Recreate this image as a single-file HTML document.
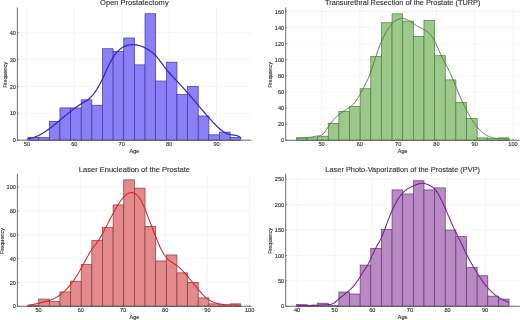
<!DOCTYPE html>
<html><head><meta charset="utf-8"><title>Age distribution by procedure</title>
<style>
html,body{margin:0;padding:0;background:#fff;}
body{width:520px;height:320px;overflow:hidden;font-family:"Liberation Sans",sans-serif;}
svg{display:block;filter:blur(0.35px);}
text{font-family:"Liberation Sans",sans-serif;stroke:#262626;stroke-width:0.1;}
.grid{stroke:#ededed;stroke-width:0.6;}
.spine{stroke:#505050;stroke-width:0.85;}
.ttl{stroke-width:0.12;fill:#303030;stroke:#303030;}
.tick{stroke:#5a5a5a;stroke-width:0.6;}
</style></head>
<body>
<svg width="520" height="320" viewBox="0 0 520 320">
<rect x="0" y="0" width="520" height="320" fill="#ffffff"/>
<line x1="26.90" y1="7.45" x2="26.90" y2="140.20" class="grid"/>
<line x1="74.30" y1="7.45" x2="74.30" y2="140.20" class="grid"/>
<line x1="121.70" y1="7.45" x2="121.70" y2="140.20" class="grid"/>
<line x1="169.10" y1="7.45" x2="169.10" y2="140.20" class="grid"/>
<line x1="216.50" y1="7.45" x2="216.50" y2="140.20" class="grid"/>
<line x1="17.40" y1="140.20" x2="251.40" y2="140.20" class="grid"/>
<line x1="17.40" y1="113.30" x2="251.40" y2="113.30" class="grid"/>
<line x1="17.40" y1="86.40" x2="251.40" y2="86.40" class="grid"/>
<line x1="17.40" y1="59.50" x2="251.40" y2="59.50" class="grid"/>
<line x1="17.40" y1="32.60" x2="251.40" y2="32.60" class="grid"/>
<rect x="28.04" y="137.51" width="10.64" height="2.69" fill="#8c80f8" stroke="#3f3698" stroke-width="0.7"/>
<rect x="38.67" y="137.51" width="10.64" height="2.69" fill="#8c80f8" stroke="#3f3698" stroke-width="0.7"/>
<rect x="49.31" y="121.37" width="10.64" height="18.83" fill="#8c80f8" stroke="#3f3698" stroke-width="0.7"/>
<rect x="59.95" y="107.92" width="10.64" height="32.28" fill="#8c80f8" stroke="#3f3698" stroke-width="0.7"/>
<rect x="70.58" y="107.92" width="10.64" height="32.28" fill="#8c80f8" stroke="#3f3698" stroke-width="0.7"/>
<rect x="81.22" y="99.85" width="10.64" height="40.35" fill="#8c80f8" stroke="#3f3698" stroke-width="0.7"/>
<rect x="91.85" y="105.23" width="10.64" height="34.97" fill="#8c80f8" stroke="#3f3698" stroke-width="0.7"/>
<rect x="102.49" y="48.74" width="10.64" height="91.46" fill="#8c80f8" stroke="#3f3698" stroke-width="0.7"/>
<rect x="113.13" y="51.43" width="10.64" height="88.77" fill="#8c80f8" stroke="#3f3698" stroke-width="0.7"/>
<rect x="123.76" y="37.98" width="10.64" height="102.22" fill="#8c80f8" stroke="#3f3698" stroke-width="0.7"/>
<rect x="134.40" y="64.88" width="10.64" height="75.32" fill="#8c80f8" stroke="#3f3698" stroke-width="0.7"/>
<rect x="145.04" y="13.77" width="10.64" height="126.43" fill="#8c80f8" stroke="#3f3698" stroke-width="0.7"/>
<rect x="155.67" y="81.02" width="10.64" height="59.18" fill="#8c80f8" stroke="#3f3698" stroke-width="0.7"/>
<rect x="166.31" y="62.19" width="10.64" height="78.01" fill="#8c80f8" stroke="#3f3698" stroke-width="0.7"/>
<rect x="176.95" y="94.47" width="10.64" height="45.73" fill="#8c80f8" stroke="#3f3698" stroke-width="0.7"/>
<rect x="187.58" y="86.40" width="10.64" height="53.80" fill="#8c80f8" stroke="#3f3698" stroke-width="0.7"/>
<rect x="198.22" y="115.99" width="10.64" height="24.21" fill="#8c80f8" stroke="#3f3698" stroke-width="0.7"/>
<rect x="208.85" y="134.82" width="10.64" height="5.38" fill="#8c80f8" stroke="#3f3698" stroke-width="0.7"/>
<rect x="219.49" y="132.13" width="10.64" height="8.07" fill="#8c80f8" stroke="#3f3698" stroke-width="0.7"/>
<rect x="230.13" y="137.51" width="10.64" height="2.69" fill="#8c80f8" stroke="#3f3698" stroke-width="0.7"/>
<path d="M27.50,138.86 L28.39,138.75 L29.28,138.61 L30.18,138.44 L31.07,138.24 L31.96,138.00 L32.85,137.74 L33.75,137.45 L34.64,137.14 L35.53,136.79 L36.42,136.42 L37.31,136.03 L38.21,135.61 L39.10,135.17 L39.99,134.70 L40.88,134.22 L41.78,133.71 L42.67,133.19 L43.56,132.64 L44.45,132.08 L45.35,131.50 L46.24,130.90 L47.13,130.29 L48.02,129.66 L48.91,129.02 L49.81,128.37 L50.70,127.70 L51.59,127.03 L52.48,126.34 L53.38,125.64 L54.27,124.93 L55.16,124.22 L56.05,123.50 L56.94,122.77 L57.84,122.04 L58.73,121.30 L59.62,120.56 L60.51,119.81 L61.41,119.07 L62.30,118.32 L63.19,117.57 L64.08,116.83 L64.97,116.08 L65.87,115.34 L66.76,114.59 L67.65,113.86 L68.54,113.13 L69.44,112.40 L70.33,111.68 L71.22,110.96 L72.11,110.26 L73.01,109.56 L73.90,108.88 L74.79,108.21 L75.68,107.55 L76.57,106.90 L77.47,106.27 L78.36,105.65 L79.25,105.05 L80.14,104.47 L81.04,103.91 L81.93,103.37 L82.82,102.84 L83.71,102.31 L84.60,101.78 L85.50,101.24 L86.39,100.67 L87.28,100.06 L88.17,99.41 L89.07,98.71 L89.96,97.94 L90.85,97.10 L91.74,96.17 L92.63,95.16 L93.53,94.06 L94.42,92.88 L95.31,91.61 L96.20,90.27 L97.10,88.85 L97.99,87.36 L98.88,85.80 L99.77,84.17 L100.67,82.48 L101.56,80.73 L102.45,78.92 L103.34,77.05 L104.23,75.15 L105.13,73.22 L106.02,71.28 L106.91,69.35 L107.80,67.44 L108.70,65.56 L109.59,63.73 L110.48,61.97 L111.37,60.29 L112.26,58.70 L113.16,57.22 L114.05,55.86 L114.94,54.61 L115.83,53.47 L116.73,52.42 L117.62,51.46 L118.51,50.59 L119.40,49.79 L120.29,49.06 L121.19,48.40 L122.08,47.81 L122.97,47.27 L123.86,46.79 L124.76,46.37 L125.65,46.00 L126.54,45.68 L127.43,45.40 L128.33,45.18 L129.22,44.99 L130.11,44.85 L131.00,44.76 L131.89,44.70 L132.79,44.68 L133.68,44.70 L134.57,44.75 L135.46,44.83 L136.36,44.95 L137.25,45.11 L138.14,45.29 L139.03,45.51 L139.92,45.76 L140.82,46.04 L141.71,46.36 L142.60,46.71 L143.49,47.08 L144.39,47.50 L145.28,47.94 L146.17,48.41 L147.06,48.91 L147.96,49.45 L148.85,50.01 L149.74,50.61 L150.63,51.23 L151.52,51.89 L152.42,52.59 L153.31,53.34 L154.20,54.15 L155.09,55.02 L155.99,55.96 L156.88,56.97 L157.77,58.03 L158.66,59.15 L159.55,60.31 L160.45,61.49 L161.34,62.70 L162.23,63.92 L163.12,65.14 L164.02,66.35 L164.91,67.54 L165.80,68.71 L166.69,69.84 L167.58,70.93 L168.48,71.98 L169.37,73.01 L170.26,74.01 L171.15,74.98 L172.05,75.94 L172.94,76.89 L173.83,77.82 L174.72,78.75 L175.62,79.68 L176.51,80.61 L177.40,81.55 L178.29,82.50 L179.18,83.46 L180.08,84.42 L180.97,85.40 L181.86,86.38 L182.75,87.37 L183.65,88.37 L184.54,89.37 L185.43,90.38 L186.32,91.40 L187.21,92.42 L188.11,93.44 L189.00,94.47 L189.89,95.51 L190.78,96.55 L191.68,97.59 L192.57,98.63 L193.46,99.68 L194.35,100.72 L195.24,101.77 L196.14,102.82 L197.03,103.88 L197.92,104.93 L198.81,105.98 L199.71,107.03 L200.60,108.08 L201.49,109.13 L202.38,110.17 L203.28,111.22 L204.17,112.26 L205.06,113.29 L205.95,114.33 L206.84,115.36 L207.74,116.38 L208.63,117.40 L209.52,118.42 L210.41,119.42 L211.31,120.42 L212.20,121.40 L213.09,122.37 L213.98,123.32 L214.87,124.25 L215.77,125.16 L216.66,126.04 L217.55,126.90 L218.44,127.72 L219.34,128.51 L220.23,129.27 L221.12,129.99 L222.01,130.67 L222.90,131.31 L223.80,131.91 L224.69,132.46 L225.58,132.95 L226.47,133.40 L227.37,133.79 L228.26,134.13 L229.15,134.40 L230.04,134.61 L230.94,134.77 L231.83,134.88 L232.72,134.97 L233.61,135.05 L234.50,135.15 L235.40,135.29 L236.29,135.48 L237.18,135.75 L238.07,136.11 L238.97,136.59 L239.86,137.20 L240.75,137.97" fill="none" stroke="#2b22c8" stroke-width="1.2" stroke-linejoin="round"/>
<line x1="17.40" y1="7.45" x2="17.40" y2="140.50" class="spine"/>
<line x1="17.10" y1="140.20" x2="251.40" y2="140.20" class="spine"/>
<text x="26.90" y="146.35" font-size="5.7" text-anchor="middle" fill="#262626" textLength="6.24" lengthAdjust="spacingAndGlyphs">50</text>
<line x1="26.90" y1="140.20" x2="26.90" y2="138.70" class="tick"/>
<text x="74.30" y="146.35" font-size="5.7" text-anchor="middle" fill="#262626" textLength="6.24" lengthAdjust="spacingAndGlyphs">60</text>
<line x1="74.30" y1="140.20" x2="74.30" y2="138.70" class="tick"/>
<text x="121.70" y="146.35" font-size="5.7" text-anchor="middle" fill="#262626" textLength="6.24" lengthAdjust="spacingAndGlyphs">70</text>
<line x1="121.70" y1="140.20" x2="121.70" y2="138.70" class="tick"/>
<text x="169.10" y="146.35" font-size="5.7" text-anchor="middle" fill="#262626" textLength="6.24" lengthAdjust="spacingAndGlyphs">80</text>
<line x1="169.10" y1="140.20" x2="169.10" y2="138.70" class="tick"/>
<text x="216.50" y="146.35" font-size="5.7" text-anchor="middle" fill="#262626" textLength="6.24" lengthAdjust="spacingAndGlyphs">90</text>
<line x1="216.50" y1="140.20" x2="216.50" y2="138.70" class="tick"/>
<text x="15.90" y="142.30" font-size="5.7" text-anchor="end" fill="#262626" textLength="3.12" lengthAdjust="spacingAndGlyphs">0</text>
<line x1="17.40" y1="140.20" x2="18.90" y2="140.20" class="tick"/>
<text x="15.90" y="115.40" font-size="5.7" text-anchor="end" fill="#262626" textLength="6.24" lengthAdjust="spacingAndGlyphs">10</text>
<line x1="17.40" y1="113.30" x2="18.90" y2="113.30" class="tick"/>
<text x="15.90" y="88.50" font-size="5.7" text-anchor="end" fill="#262626" textLength="6.24" lengthAdjust="spacingAndGlyphs">20</text>
<line x1="17.40" y1="86.40" x2="18.90" y2="86.40" class="tick"/>
<text x="15.90" y="61.60" font-size="5.7" text-anchor="end" fill="#262626" textLength="6.24" lengthAdjust="spacingAndGlyphs">30</text>
<line x1="17.40" y1="59.50" x2="18.90" y2="59.50" class="tick"/>
<text x="15.90" y="34.70" font-size="5.7" text-anchor="end" fill="#262626" textLength="6.24" lengthAdjust="spacingAndGlyphs">40</text>
<line x1="17.40" y1="32.60" x2="18.90" y2="32.60" class="tick"/>
<text x="134.40" y="152.70" font-size="5.5" text-anchor="middle" fill="#262626" textLength="9.67" lengthAdjust="spacingAndGlyphs">Age</text>
<text x="7.10" y="74.82" font-size="5.5" text-anchor="middle" fill="#262626" textLength="25.83" lengthAdjust="spacingAndGlyphs" transform="rotate(-90 7.10 74.82)">Frequency</text>
<text x="134.40" y="5.45" font-size="7.5" text-anchor="middle" fill="#262626" textLength="68.53" lengthAdjust="spacingAndGlyphs" class="ttl">Open Prostatectomy</text>
<line x1="321.60" y1="7.45" x2="321.60" y2="140.25" class="grid"/>
<line x1="359.88" y1="7.45" x2="359.88" y2="140.25" class="grid"/>
<line x1="398.16" y1="7.45" x2="398.16" y2="140.25" class="grid"/>
<line x1="436.44" y1="7.45" x2="436.44" y2="140.25" class="grid"/>
<line x1="474.72" y1="7.45" x2="474.72" y2="140.25" class="grid"/>
<line x1="513.00" y1="7.45" x2="513.00" y2="140.25" class="grid"/>
<line x1="285.70" y1="140.25" x2="519.70" y2="140.25" class="grid"/>
<line x1="285.70" y1="124.15" x2="519.70" y2="124.15" class="grid"/>
<line x1="285.70" y1="108.05" x2="519.70" y2="108.05" class="grid"/>
<line x1="285.70" y1="91.95" x2="519.70" y2="91.95" class="grid"/>
<line x1="285.70" y1="75.85" x2="519.70" y2="75.85" class="grid"/>
<line x1="285.70" y1="59.75" x2="519.70" y2="59.75" class="grid"/>
<line x1="285.70" y1="43.65" x2="519.70" y2="43.65" class="grid"/>
<line x1="285.70" y1="27.55" x2="519.70" y2="27.55" class="grid"/>
<line x1="285.70" y1="11.45" x2="519.70" y2="11.45" class="grid"/>
<rect x="296.34" y="137.84" width="10.64" height="2.42" fill="#9dc88c" stroke="#4b7a3e" stroke-width="0.7"/>
<rect x="306.97" y="137.84" width="10.64" height="2.42" fill="#9dc88c" stroke="#4b7a3e" stroke-width="0.7"/>
<rect x="317.61" y="136.22" width="10.64" height="4.03" fill="#9dc88c" stroke="#4b7a3e" stroke-width="0.7"/>
<rect x="328.25" y="123.34" width="10.64" height="16.91" fill="#9dc88c" stroke="#4b7a3e" stroke-width="0.7"/>
<rect x="338.88" y="111.27" width="10.64" height="28.98" fill="#9dc88c" stroke="#4b7a3e" stroke-width="0.7"/>
<rect x="349.52" y="106.44" width="10.64" height="33.81" fill="#9dc88c" stroke="#4b7a3e" stroke-width="0.7"/>
<rect x="360.15" y="88.73" width="10.64" height="51.52" fill="#9dc88c" stroke="#4b7a3e" stroke-width="0.7"/>
<rect x="370.79" y="56.53" width="10.64" height="83.72" fill="#9dc88c" stroke="#4b7a3e" stroke-width="0.7"/>
<rect x="381.43" y="22.72" width="10.64" height="117.53" fill="#9dc88c" stroke="#4b7a3e" stroke-width="0.7"/>
<rect x="392.06" y="13.86" width="10.64" height="126.39" fill="#9dc88c" stroke="#4b7a3e" stroke-width="0.7"/>
<rect x="402.70" y="21.11" width="10.64" height="119.14" fill="#9dc88c" stroke="#4b7a3e" stroke-width="0.7"/>
<rect x="413.34" y="36.40" width="10.64" height="103.85" fill="#9dc88c" stroke="#4b7a3e" stroke-width="0.7"/>
<rect x="423.97" y="20.30" width="10.64" height="119.95" fill="#9dc88c" stroke="#4b7a3e" stroke-width="0.7"/>
<rect x="434.61" y="55.72" width="10.64" height="84.53" fill="#9dc88c" stroke="#4b7a3e" stroke-width="0.7"/>
<rect x="445.25" y="79.88" width="10.64" height="60.38" fill="#9dc88c" stroke="#4b7a3e" stroke-width="0.7"/>
<rect x="455.88" y="102.41" width="10.64" height="37.84" fill="#9dc88c" stroke="#4b7a3e" stroke-width="0.7"/>
<rect x="466.52" y="118.52" width="10.64" height="21.74" fill="#9dc88c" stroke="#4b7a3e" stroke-width="0.7"/>
<rect x="477.15" y="137.84" width="10.64" height="2.42" fill="#9dc88c" stroke="#4b7a3e" stroke-width="0.7"/>
<rect x="487.79" y="138.64" width="10.64" height="1.61" fill="#9dc88c" stroke="#4b7a3e" stroke-width="0.7"/>
<rect x="498.43" y="137.84" width="10.64" height="2.42" fill="#9dc88c" stroke="#4b7a3e" stroke-width="0.7"/>
<path d="M296.25,138.10 L297.14,138.09 L298.03,138.08 L298.92,138.07 L299.81,138.05 L300.71,138.02 L301.60,137.99 L302.49,137.96 L303.38,137.91 L304.27,137.86 L305.16,137.80 L306.05,137.73 L306.94,137.65 L307.84,137.56 L308.73,137.45 L309.62,137.33 L310.51,137.20 L311.40,137.06 L312.29,136.90 L313.18,136.72 L314.07,136.55 L314.97,136.37 L315.86,136.21 L316.75,136.07 L317.64,135.96 L318.53,135.85 L319.42,135.71 L320.31,135.49 L321.20,135.16 L322.10,134.67 L322.99,133.98 L323.88,133.07 L324.77,131.98 L325.66,130.74 L326.55,129.42 L327.44,128.05 L328.33,126.69 L329.22,125.37 L330.12,124.12 L331.01,122.93 L331.90,121.79 L332.79,120.71 L333.68,119.69 L334.57,118.71 L335.46,117.78 L336.35,116.90 L337.25,116.06 L338.14,115.26 L339.03,114.50 L339.92,113.78 L340.81,113.09 L341.70,112.43 L342.59,111.80 L343.48,111.21 L344.38,110.63 L345.27,110.08 L346.16,109.53 L347.05,108.99 L347.94,108.43 L348.83,107.84 L349.72,107.22 L350.61,106.56 L351.51,105.83 L352.40,105.04 L353.29,104.16 L354.18,103.20 L355.07,102.13 L355.96,100.95 L356.85,99.66 L357.74,98.28 L358.63,96.82 L359.53,95.29 L360.42,93.69 L361.31,92.05 L362.20,90.36 L363.09,88.64 L363.98,86.90 L364.87,85.16 L365.76,83.41 L366.66,81.64 L367.55,79.82 L368.44,77.90 L369.33,75.84 L370.22,73.60 L371.11,71.17 L372.00,68.55 L372.89,65.80 L373.79,62.98 L374.68,60.15 L375.57,57.35 L376.46,54.65 L377.35,52.06 L378.24,49.59 L379.13,47.22 L380.02,44.96 L380.92,42.81 L381.81,40.75 L382.70,38.78 L383.59,36.92 L384.48,35.14 L385.37,33.46 L386.26,31.87 L387.15,30.38 L388.04,28.97 L388.94,27.66 L389.83,26.44 L390.72,25.31 L391.61,24.26 L392.50,23.31 L393.39,22.45 L394.28,21.67 L395.17,20.98 L396.07,20.38 L396.96,19.86 L397.85,19.43 L398.74,19.08 L399.63,18.82 L400.52,18.64 L401.41,18.55 L402.30,18.53 L403.20,18.60 L404.09,18.75 L404.98,18.98 L405.87,19.27 L406.76,19.62 L407.65,20.02 L408.54,20.47 L409.43,20.96 L410.33,21.49 L411.22,22.05 L412.11,22.62 L413.00,23.21 L413.89,23.81 L414.78,24.41 L415.67,25.00 L416.56,25.58 L417.46,26.14 L418.35,26.68 L419.24,27.19 L420.13,27.66 L421.02,28.12 L421.91,28.56 L422.80,29.01 L423.69,29.47 L424.58,29.96 L425.48,30.49 L426.37,31.07 L427.26,31.72 L428.15,32.44 L429.04,33.25 L429.93,34.16 L430.82,35.19 L431.71,36.34 L432.61,37.62 L433.50,39.06 L434.39,40.65 L435.28,42.40 L436.17,44.26 L437.06,46.21 L437.95,48.20 L438.84,50.20 L439.74,52.17 L440.63,54.11 L441.52,56.01 L442.41,57.85 L443.30,59.65 L444.19,61.39 L445.08,63.08 L445.97,64.74 L446.87,66.40 L447.76,68.09 L448.65,69.85 L449.54,71.70 L450.43,73.63 L451.32,75.65 L452.21,77.73 L453.10,79.86 L453.99,82.03 L454.89,84.22 L455.78,86.41 L456.67,88.60 L457.56,90.77 L458.45,92.90 L459.34,94.99 L460.23,97.04 L461.12,99.04 L462.02,101.00 L462.91,102.91 L463.80,104.78 L464.69,106.60 L465.58,108.38 L466.47,110.10 L467.36,111.78 L468.25,113.41 L469.15,115.00 L470.04,116.53 L470.93,118.01 L471.82,119.44 L472.71,120.82 L473.60,122.15 L474.49,123.43 L475.38,124.65 L476.28,125.82 L477.17,126.93 L478.06,127.99 L478.95,129.00 L479.84,129.95 L480.73,130.84 L481.62,131.68 L482.51,132.46 L483.40,133.18 L484.30,133.85 L485.19,134.45 L486.08,135.01 L486.97,135.52 L487.86,135.98 L488.75,136.39 L489.64,136.77 L490.53,137.10 L491.43,137.39 L492.32,137.65 L493.21,137.88 L494.10,138.07 L494.99,138.24 L495.88,138.38 L496.77,138.50 L497.66,138.60 L498.56,138.67 L499.45,138.74 L500.34,138.79 L501.23,138.83 L502.12,138.86 L503.01,138.88 L503.90,138.90 L504.79,138.92 L505.69,138.94 L506.58,138.96 L507.47,138.99 L508.36,139.03 L509.25,139.08" fill="none" stroke="#478036" stroke-width="0.95" stroke-linejoin="round"/>
<line x1="285.70" y1="7.45" x2="285.70" y2="140.55" class="spine"/>
<line x1="285.40" y1="140.25" x2="519.70" y2="140.25" class="spine"/>
<text x="321.60" y="146.40" font-size="5.7" text-anchor="middle" fill="#262626" textLength="6.24" lengthAdjust="spacingAndGlyphs">50</text>
<line x1="321.60" y1="140.25" x2="321.60" y2="138.75" class="tick"/>
<text x="359.88" y="146.40" font-size="5.7" text-anchor="middle" fill="#262626" textLength="6.24" lengthAdjust="spacingAndGlyphs">60</text>
<line x1="359.88" y1="140.25" x2="359.88" y2="138.75" class="tick"/>
<text x="398.16" y="146.40" font-size="5.7" text-anchor="middle" fill="#262626" textLength="6.24" lengthAdjust="spacingAndGlyphs">70</text>
<line x1="398.16" y1="140.25" x2="398.16" y2="138.75" class="tick"/>
<text x="436.44" y="146.40" font-size="5.7" text-anchor="middle" fill="#262626" textLength="6.24" lengthAdjust="spacingAndGlyphs">80</text>
<line x1="436.44" y1="140.25" x2="436.44" y2="138.75" class="tick"/>
<text x="474.72" y="146.40" font-size="5.7" text-anchor="middle" fill="#262626" textLength="6.24" lengthAdjust="spacingAndGlyphs">90</text>
<line x1="474.72" y1="140.25" x2="474.72" y2="138.75" class="tick"/>
<text x="513.00" y="146.40" font-size="5.7" text-anchor="middle" fill="#262626" textLength="9.35" lengthAdjust="spacingAndGlyphs">100</text>
<line x1="513.00" y1="140.25" x2="513.00" y2="138.75" class="tick"/>
<text x="284.20" y="142.35" font-size="5.7" text-anchor="end" fill="#262626" textLength="3.12" lengthAdjust="spacingAndGlyphs">0</text>
<line x1="285.70" y1="140.25" x2="287.20" y2="140.25" class="tick"/>
<text x="284.20" y="126.25" font-size="5.7" text-anchor="end" fill="#262626" textLength="6.24" lengthAdjust="spacingAndGlyphs">20</text>
<line x1="285.70" y1="124.15" x2="287.20" y2="124.15" class="tick"/>
<text x="284.20" y="110.15" font-size="5.7" text-anchor="end" fill="#262626" textLength="6.24" lengthAdjust="spacingAndGlyphs">40</text>
<line x1="285.70" y1="108.05" x2="287.20" y2="108.05" class="tick"/>
<text x="284.20" y="94.05" font-size="5.7" text-anchor="end" fill="#262626" textLength="6.24" lengthAdjust="spacingAndGlyphs">60</text>
<line x1="285.70" y1="91.95" x2="287.20" y2="91.95" class="tick"/>
<text x="284.20" y="77.95" font-size="5.7" text-anchor="end" fill="#262626" textLength="6.24" lengthAdjust="spacingAndGlyphs">80</text>
<line x1="285.70" y1="75.85" x2="287.20" y2="75.85" class="tick"/>
<text x="284.20" y="61.85" font-size="5.7" text-anchor="end" fill="#262626" textLength="9.35" lengthAdjust="spacingAndGlyphs">100</text>
<line x1="285.70" y1="59.75" x2="287.20" y2="59.75" class="tick"/>
<text x="284.20" y="45.75" font-size="5.7" text-anchor="end" fill="#262626" textLength="9.35" lengthAdjust="spacingAndGlyphs">120</text>
<line x1="285.70" y1="43.65" x2="287.20" y2="43.65" class="tick"/>
<text x="284.20" y="29.65" font-size="5.7" text-anchor="end" fill="#262626" textLength="9.35" lengthAdjust="spacingAndGlyphs">140</text>
<line x1="285.70" y1="27.55" x2="287.20" y2="27.55" class="tick"/>
<text x="284.20" y="13.55" font-size="5.7" text-anchor="end" fill="#262626" textLength="9.35" lengthAdjust="spacingAndGlyphs">160</text>
<line x1="285.70" y1="11.45" x2="287.20" y2="11.45" class="tick"/>
<text x="402.70" y="152.75" font-size="5.5" text-anchor="middle" fill="#262626" textLength="9.67" lengthAdjust="spacingAndGlyphs">Age</text>
<text x="272.40" y="74.85" font-size="5.5" text-anchor="middle" fill="#262626" textLength="25.83" lengthAdjust="spacingAndGlyphs" transform="rotate(-90 272.40 74.85)">Frequency</text>
<text x="402.70" y="5.45" font-size="7.5" text-anchor="middle" fill="#262626" textLength="155.51" lengthAdjust="spacingAndGlyphs" class="ttl">Transurethral Resection of the Prostate (TURP)</text>
<line x1="38.60" y1="173.70" x2="38.60" y2="306.25" class="grid"/>
<line x1="80.80" y1="173.70" x2="80.80" y2="306.25" class="grid"/>
<line x1="123.00" y1="173.70" x2="123.00" y2="306.25" class="grid"/>
<line x1="165.20" y1="173.70" x2="165.20" y2="306.25" class="grid"/>
<line x1="207.40" y1="173.70" x2="207.40" y2="306.25" class="grid"/>
<line x1="249.60" y1="173.70" x2="249.60" y2="306.25" class="grid"/>
<line x1="17.40" y1="306.25" x2="251.40" y2="306.25" class="grid"/>
<line x1="17.40" y1="282.40" x2="251.40" y2="282.40" class="grid"/>
<line x1="17.40" y1="258.55" x2="251.40" y2="258.55" class="grid"/>
<line x1="17.40" y1="234.70" x2="251.40" y2="234.70" class="grid"/>
<line x1="17.40" y1="210.85" x2="251.40" y2="210.85" class="grid"/>
<line x1="17.40" y1="187.00" x2="251.40" y2="187.00" class="grid"/>
<rect x="28.04" y="305.06" width="10.64" height="1.19" fill="#e58a8c" stroke="#873838" stroke-width="0.7"/>
<rect x="38.67" y="299.10" width="10.64" height="7.15" fill="#e58a8c" stroke="#873838" stroke-width="0.7"/>
<rect x="49.31" y="301.48" width="10.64" height="4.77" fill="#e58a8c" stroke="#873838" stroke-width="0.7"/>
<rect x="59.95" y="291.94" width="10.64" height="14.31" fill="#e58a8c" stroke="#873838" stroke-width="0.7"/>
<rect x="70.58" y="281.21" width="10.64" height="25.04" fill="#e58a8c" stroke="#873838" stroke-width="0.7"/>
<rect x="81.22" y="264.51" width="10.64" height="41.74" fill="#e58a8c" stroke="#873838" stroke-width="0.7"/>
<rect x="91.85" y="240.66" width="10.64" height="65.59" fill="#e58a8c" stroke="#873838" stroke-width="0.7"/>
<rect x="102.49" y="227.55" width="10.64" height="78.70" fill="#e58a8c" stroke="#873838" stroke-width="0.7"/>
<rect x="113.13" y="204.89" width="10.64" height="101.36" fill="#e58a8c" stroke="#873838" stroke-width="0.7"/>
<rect x="123.76" y="179.85" width="10.64" height="126.40" fill="#e58a8c" stroke="#873838" stroke-width="0.7"/>
<rect x="134.40" y="188.19" width="10.64" height="118.06" fill="#e58a8c" stroke="#873838" stroke-width="0.7"/>
<rect x="145.04" y="226.35" width="10.64" height="79.90" fill="#e58a8c" stroke="#873838" stroke-width="0.7"/>
<rect x="155.67" y="260.94" width="10.64" height="45.31" fill="#e58a8c" stroke="#873838" stroke-width="0.7"/>
<rect x="166.31" y="254.97" width="10.64" height="51.28" fill="#e58a8c" stroke="#873838" stroke-width="0.7"/>
<rect x="176.95" y="272.86" width="10.64" height="33.39" fill="#e58a8c" stroke="#873838" stroke-width="0.7"/>
<rect x="187.58" y="282.40" width="10.64" height="23.85" fill="#e58a8c" stroke="#873838" stroke-width="0.7"/>
<rect x="198.22" y="297.90" width="10.64" height="8.35" fill="#e58a8c" stroke="#873838" stroke-width="0.7"/>
<rect x="208.85" y="303.87" width="10.64" height="2.38" fill="#e58a8c" stroke="#873838" stroke-width="0.7"/>
<rect x="219.49" y="305.06" width="10.64" height="1.19" fill="#e58a8c" stroke="#873838" stroke-width="0.7"/>
<rect x="230.13" y="303.87" width="10.64" height="2.38" fill="#e58a8c" stroke="#873838" stroke-width="0.7"/>
<path d="M27.50,305.64 L28.39,305.44 L29.29,305.24 L30.18,305.05 L31.07,304.86 L31.97,304.67 L32.86,304.48 L33.75,304.29 L34.65,304.10 L35.54,303.92 L36.43,303.73 L37.33,303.54 L38.22,303.34 L39.11,303.15 L40.01,302.95 L40.90,302.74 L41.79,302.53 L42.69,302.32 L43.58,302.10 L44.47,301.87 L45.37,301.63 L46.26,301.39 L47.15,301.13 L48.05,300.86 L48.94,300.57 L49.83,300.26 L50.73,299.94 L51.62,299.59 L52.51,299.21 L53.41,298.82 L54.30,298.39 L55.19,297.93 L56.09,297.44 L56.98,296.92 L57.87,296.36 L58.77,295.77 L59.66,295.14 L60.55,294.48 L61.45,293.79 L62.34,293.05 L63.23,292.28 L64.13,291.48 L65.02,290.63 L65.91,289.74 L66.81,288.82 L67.70,287.86 L68.59,286.85 L69.49,285.80 L70.38,284.72 L71.27,283.59 L72.17,282.41 L73.06,281.20 L73.95,279.93 L74.85,278.63 L75.74,277.28 L76.63,275.88 L77.53,274.44 L78.42,272.96 L79.31,271.45 L80.21,269.90 L81.10,268.33 L81.99,266.74 L82.88,265.13 L83.78,263.51 L84.67,261.87 L85.56,260.24 L86.46,258.60 L87.35,256.96 L88.24,255.34 L89.14,253.73 L90.03,252.16 L90.92,250.67 L91.82,249.27 L92.71,247.99 L93.60,246.84 L94.50,245.79 L95.39,244.73 L96.28,243.58 L97.18,242.35 L98.07,241.04 L98.96,239.65 L99.86,238.20 L100.75,236.69 L101.64,235.14 L102.54,233.54 L103.43,231.90 L104.32,230.24 L105.22,228.55 L106.11,226.85 L107.00,225.13 L107.90,223.40 L108.79,221.67 L109.68,219.94 L110.58,218.22 L111.47,216.51 L112.36,214.82 L113.26,213.15 L114.15,211.51 L115.04,209.90 L115.94,208.34 L116.83,206.81 L117.72,205.34 L118.62,203.92 L119.51,202.56 L120.40,201.26 L121.30,200.04 L122.19,198.89 L123.08,197.82 L123.98,196.84 L124.87,195.94 L125.76,195.15 L126.66,194.45 L127.55,193.86 L128.44,193.37 L129.34,193.00 L130.23,192.75 L131.12,192.62 L132.02,192.62 L132.91,192.75 L133.80,193.01 L134.70,193.41 L135.59,193.96 L136.48,194.66 L137.38,195.51 L138.27,196.52 L139.16,197.69 L140.06,199.02 L140.95,200.51 L141.84,202.14 L142.74,203.91 L143.63,205.83 L144.52,207.88 L145.42,210.05 L146.31,212.34 L147.20,214.70 L148.10,217.07 L148.99,219.41 L149.88,221.72 L150.78,224.02 L151.67,226.32 L152.56,228.63 L153.46,230.95 L154.35,233.26 L155.24,235.55 L156.14,237.81 L157.03,240.02 L157.92,242.17 L158.82,244.24 L159.71,246.23 L160.60,248.12 L161.50,249.90 L162.39,251.55 L163.28,253.09 L164.18,254.52 L165.07,255.82 L165.96,257.01 L166.86,258.07 L167.75,259.02 L168.64,259.87 L169.54,260.63 L170.43,261.32 L171.32,261.95 L172.22,262.54 L173.11,263.10 L174.00,263.66 L174.90,264.22 L175.79,264.81 L176.68,265.43 L177.58,266.10 L178.47,266.82 L179.36,267.59 L180.26,268.40 L181.15,269.25 L182.04,270.14 L182.94,271.06 L183.83,272.02 L184.72,273.00 L185.62,274.01 L186.51,275.05 L187.40,276.10 L188.29,277.18 L189.19,278.26 L190.08,279.36 L190.97,280.47 L191.87,281.58 L192.76,282.70 L193.65,283.82 L194.55,284.93 L195.44,286.04 L196.33,287.15 L197.23,288.24 L198.12,289.32 L199.01,290.38 L199.91,291.42 L200.80,292.44 L201.69,293.43 L202.59,294.39 L203.48,295.31 L204.37,296.19 L205.27,297.03 L206.16,297.83 L207.05,298.57 L207.95,299.26 L208.84,299.89 L209.73,300.46 L210.63,300.98 L211.52,301.44 L212.41,301.86 L213.31,302.24 L214.20,302.57 L215.09,302.87 L215.99,303.14 L216.88,303.37 L217.77,303.59 L218.67,303.77 L219.56,303.95 L220.45,304.10 L221.35,304.24 L222.24,304.37 L223.13,304.48 L224.03,304.58 L224.92,304.67 L225.81,304.75 L226.71,304.82 L227.60,304.87 L228.49,304.92 L229.39,304.97 L230.28,305.00 L231.17,305.03 L232.07,305.06 L232.96,305.08 L233.85,305.10 L234.75,305.11 L235.64,305.12 L236.53,305.13 L237.43,305.14 L238.32,305.16 L239.21,305.17 L240.11,305.18 L241.00,305.20" fill="none" stroke="#d81f28" stroke-width="1.05" stroke-linejoin="round"/>
<line x1="17.40" y1="173.70" x2="17.40" y2="306.55" class="spine"/>
<line x1="17.10" y1="306.25" x2="251.40" y2="306.25" class="spine"/>
<text x="38.60" y="312.40" font-size="5.7" text-anchor="middle" fill="#262626" textLength="6.24" lengthAdjust="spacingAndGlyphs">50</text>
<line x1="38.60" y1="306.25" x2="38.60" y2="304.75" class="tick"/>
<text x="80.80" y="312.40" font-size="5.7" text-anchor="middle" fill="#262626" textLength="6.24" lengthAdjust="spacingAndGlyphs">60</text>
<line x1="80.80" y1="306.25" x2="80.80" y2="304.75" class="tick"/>
<text x="123.00" y="312.40" font-size="5.7" text-anchor="middle" fill="#262626" textLength="6.24" lengthAdjust="spacingAndGlyphs">70</text>
<line x1="123.00" y1="306.25" x2="123.00" y2="304.75" class="tick"/>
<text x="165.20" y="312.40" font-size="5.7" text-anchor="middle" fill="#262626" textLength="6.24" lengthAdjust="spacingAndGlyphs">80</text>
<line x1="165.20" y1="306.25" x2="165.20" y2="304.75" class="tick"/>
<text x="207.40" y="312.40" font-size="5.7" text-anchor="middle" fill="#262626" textLength="6.24" lengthAdjust="spacingAndGlyphs">90</text>
<line x1="207.40" y1="306.25" x2="207.40" y2="304.75" class="tick"/>
<text x="249.60" y="312.40" font-size="5.7" text-anchor="middle" fill="#262626" textLength="9.35" lengthAdjust="spacingAndGlyphs">100</text>
<line x1="249.60" y1="306.25" x2="249.60" y2="304.75" class="tick"/>
<text x="15.90" y="308.35" font-size="5.7" text-anchor="end" fill="#262626" textLength="3.12" lengthAdjust="spacingAndGlyphs">0</text>
<line x1="17.40" y1="306.25" x2="18.90" y2="306.25" class="tick"/>
<text x="15.90" y="284.50" font-size="5.7" text-anchor="end" fill="#262626" textLength="6.24" lengthAdjust="spacingAndGlyphs">20</text>
<line x1="17.40" y1="282.40" x2="18.90" y2="282.40" class="tick"/>
<text x="15.90" y="260.65" font-size="5.7" text-anchor="end" fill="#262626" textLength="6.24" lengthAdjust="spacingAndGlyphs">40</text>
<line x1="17.40" y1="258.55" x2="18.90" y2="258.55" class="tick"/>
<text x="15.90" y="236.80" font-size="5.7" text-anchor="end" fill="#262626" textLength="6.24" lengthAdjust="spacingAndGlyphs">60</text>
<line x1="17.40" y1="234.70" x2="18.90" y2="234.70" class="tick"/>
<text x="15.90" y="212.95" font-size="5.7" text-anchor="end" fill="#262626" textLength="6.24" lengthAdjust="spacingAndGlyphs">80</text>
<line x1="17.40" y1="210.85" x2="18.90" y2="210.85" class="tick"/>
<text x="15.90" y="189.10" font-size="5.7" text-anchor="end" fill="#262626" textLength="9.35" lengthAdjust="spacingAndGlyphs">100</text>
<line x1="17.40" y1="187.00" x2="18.90" y2="187.00" class="tick"/>
<text x="134.40" y="318.75" font-size="5.5" text-anchor="middle" fill="#262626" textLength="9.67" lengthAdjust="spacingAndGlyphs">Age</text>
<text x="4.10" y="240.97" font-size="5.5" text-anchor="middle" fill="#262626" textLength="25.83" lengthAdjust="spacingAndGlyphs" transform="rotate(-90 4.10 240.97)">Frequency</text>
<text x="134.40" y="171.70" font-size="7.5" text-anchor="middle" fill="#262626" textLength="111.11" lengthAdjust="spacingAndGlyphs" class="ttl">Laser Enucleation of the Prostate</text>
<line x1="297.10" y1="173.60" x2="297.10" y2="306.25" class="grid"/>
<line x1="334.70" y1="173.60" x2="334.70" y2="306.25" class="grid"/>
<line x1="372.30" y1="173.60" x2="372.30" y2="306.25" class="grid"/>
<line x1="409.90" y1="173.60" x2="409.90" y2="306.25" class="grid"/>
<line x1="447.50" y1="173.60" x2="447.50" y2="306.25" class="grid"/>
<line x1="485.10" y1="173.60" x2="485.10" y2="306.25" class="grid"/>
<line x1="285.70" y1="306.25" x2="519.70" y2="306.25" class="grid"/>
<line x1="285.70" y1="280.85" x2="519.70" y2="280.85" class="grid"/>
<line x1="285.70" y1="255.45" x2="519.70" y2="255.45" class="grid"/>
<line x1="285.70" y1="230.05" x2="519.70" y2="230.05" class="grid"/>
<line x1="285.70" y1="204.65" x2="519.70" y2="204.65" class="grid"/>
<line x1="285.70" y1="179.25" x2="519.70" y2="179.25" class="grid"/>
<rect x="296.34" y="304.73" width="10.64" height="1.52" fill="#b98ac4" stroke="#653672" stroke-width="0.7"/>
<rect x="306.97" y="305.23" width="10.64" height="1.02" fill="#b98ac4" stroke="#653672" stroke-width="0.7"/>
<rect x="317.61" y="303.20" width="10.64" height="3.05" fill="#b98ac4" stroke="#653672" stroke-width="0.7"/>
<rect x="328.25" y="305.74" width="10.64" height="0.51" fill="#b98ac4" stroke="#653672" stroke-width="0.7"/>
<rect x="338.88" y="292.03" width="10.64" height="14.22" fill="#b98ac4" stroke="#653672" stroke-width="0.7"/>
<rect x="349.52" y="294.06" width="10.64" height="12.19" fill="#b98ac4" stroke="#653672" stroke-width="0.7"/>
<rect x="360.15" y="265.10" width="10.64" height="41.15" fill="#b98ac4" stroke="#653672" stroke-width="0.7"/>
<rect x="370.79" y="248.34" width="10.64" height="57.91" fill="#b98ac4" stroke="#653672" stroke-width="0.7"/>
<rect x="381.43" y="229.54" width="10.64" height="76.71" fill="#b98ac4" stroke="#653672" stroke-width="0.7"/>
<rect x="392.06" y="189.92" width="10.64" height="116.33" fill="#b98ac4" stroke="#653672" stroke-width="0.7"/>
<rect x="402.70" y="193.98" width="10.64" height="112.27" fill="#b98ac4" stroke="#653672" stroke-width="0.7"/>
<rect x="413.34" y="180.77" width="10.64" height="125.48" fill="#b98ac4" stroke="#653672" stroke-width="0.7"/>
<rect x="423.97" y="189.92" width="10.64" height="116.33" fill="#b98ac4" stroke="#653672" stroke-width="0.7"/>
<rect x="434.61" y="187.89" width="10.64" height="118.36" fill="#b98ac4" stroke="#653672" stroke-width="0.7"/>
<rect x="445.25" y="230.05" width="10.64" height="76.20" fill="#b98ac4" stroke="#653672" stroke-width="0.7"/>
<rect x="455.88" y="236.65" width="10.64" height="69.60" fill="#b98ac4" stroke="#653672" stroke-width="0.7"/>
<rect x="466.52" y="267.64" width="10.64" height="38.61" fill="#b98ac4" stroke="#653672" stroke-width="0.7"/>
<rect x="477.15" y="275.77" width="10.64" height="30.48" fill="#b98ac4" stroke="#653672" stroke-width="0.7"/>
<rect x="487.79" y="296.09" width="10.64" height="10.16" fill="#b98ac4" stroke="#653672" stroke-width="0.7"/>
<rect x="498.43" y="299.14" width="10.64" height="7.11" fill="#b98ac4" stroke="#653672" stroke-width="0.7"/>
<path d="M296.25,305.29 L297.14,305.31 L298.03,305.33 L298.92,305.35 L299.81,305.37 L300.70,305.38 L301.59,305.39 L302.48,305.41 L303.37,305.42 L304.26,305.42 L305.15,305.43 L306.04,305.43 L306.93,305.43 L307.82,305.43 L308.71,305.43 L309.60,305.42 L310.49,305.41 L311.38,305.40 L312.27,305.39 L313.16,305.37 L314.05,305.35 L314.94,305.33 L315.83,305.31 L316.72,305.28 L317.61,305.25 L318.50,305.22 L319.39,305.18 L320.28,305.14 L321.17,305.10 L322.06,305.05 L322.96,305.00 L323.85,304.94 L324.74,304.89 L325.63,304.83 L326.52,304.76 L327.41,304.69 L328.30,304.62 L329.19,304.54 L330.08,304.42 L330.97,304.26 L331.86,304.02 L332.75,303.70 L333.64,303.27 L334.53,302.71 L335.42,302.03 L336.31,301.27 L337.20,300.45 L338.09,299.61 L338.98,298.79 L339.87,298.00 L340.76,297.26 L341.65,296.54 L342.54,295.84 L343.43,295.16 L344.32,294.48 L345.21,293.81 L346.10,293.12 L346.99,292.41 L347.88,291.68 L348.77,290.92 L349.66,290.12 L350.55,289.26 L351.44,288.36 L352.33,287.41 L353.22,286.41 L354.11,285.36 L355.00,284.26 L355.89,283.11 L356.78,281.90 L357.67,280.64 L358.56,279.32 L359.45,277.95 L360.34,276.52 L361.23,275.05 L362.12,273.57 L363.01,272.10 L363.90,270.68 L364.79,269.33 L365.68,268.08 L366.57,266.84 L367.46,265.50 L368.35,263.92 L369.24,262.09 L370.13,260.10 L371.02,258.07 L371.91,256.07 L372.80,254.12 L373.69,252.23 L374.58,250.38 L375.47,248.60 L376.37,246.89 L377.26,245.24 L378.15,243.67 L379.04,242.15 L379.93,240.60 L380.82,238.95 L381.71,237.10 L382.60,235.03 L383.49,232.80 L384.38,230.44 L385.27,228.00 L386.16,225.53 L387.05,223.07 L387.94,220.67 L388.83,218.36 L389.72,216.12 L390.61,213.97 L391.50,211.91 L392.39,209.93 L393.28,208.03 L394.17,206.21 L395.06,204.48 L395.95,202.83 L396.84,201.26 L397.73,199.77 L398.62,198.37 L399.51,197.05 L400.40,195.82 L401.29,194.67 L402.18,193.60 L403.07,192.61 L403.96,191.71 L404.85,190.88 L405.74,190.15 L406.63,189.48 L407.52,188.88 L408.41,188.34 L409.30,187.85 L410.19,187.39 L411.08,186.96 L411.97,186.55 L412.86,186.15 L413.75,185.76 L414.64,185.35 L415.53,184.95 L416.42,184.57 L417.31,184.21 L418.20,183.89 L419.09,183.62 L419.98,183.41 L420.87,183.27 L421.76,183.22 L422.65,183.25 L423.54,183.36 L424.43,183.54 L425.32,183.77 L426.21,184.05 L427.10,184.37 L427.99,184.73 L428.88,185.10 L429.78,185.50 L430.67,185.94 L431.56,186.44 L432.45,187.02 L433.34,187.71 L434.23,188.52 L435.12,189.48 L436.01,190.60 L436.90,191.87 L437.79,193.27 L438.68,194.80 L439.57,196.43 L440.46,198.16 L441.35,199.98 L442.24,201.86 L443.13,203.80 L444.02,205.78 L444.91,207.78 L445.80,209.81 L446.69,211.84 L447.58,213.87 L448.47,215.91 L449.36,217.94 L450.25,219.96 L451.14,221.97 L452.03,223.97 L452.92,225.94 L453.81,227.88 L454.70,229.80 L455.59,231.68 L456.48,233.52 L457.37,235.32 L458.26,237.11 L459.15,238.90 L460.04,240.71 L460.93,242.55 L461.82,244.42 L462.71,246.30 L463.60,248.18 L464.49,250.05 L465.38,251.89 L466.27,253.69 L467.16,255.45 L468.05,257.16 L468.94,258.83 L469.83,260.47 L470.72,262.07 L471.61,263.65 L472.50,265.21 L473.39,266.74 L474.28,268.26 L475.17,269.76 L476.06,271.24 L476.95,272.69 L477.84,274.12 L478.73,275.52 L479.62,276.90 L480.51,278.24 L481.40,279.55 L482.29,280.83 L483.19,282.07 L484.08,283.28 L484.97,284.45 L485.86,285.58 L486.75,286.67 L487.64,287.72 L488.53,288.72 L489.42,289.68 L490.31,290.60 L491.20,291.48 L492.09,292.32 L492.98,293.12 L493.87,293.88 L494.76,294.61 L495.65,295.31 L496.54,295.97 L497.43,296.60 L498.32,297.20 L499.21,297.77 L500.10,298.32 L500.99,298.84 L501.88,299.33 L502.77,299.80 L503.66,300.24 L504.55,300.66 L505.44,301.07 L506.33,301.45 L507.22,301.82 L508.11,302.17 L509.00,302.50" fill="none" stroke="#74208a" stroke-width="1.05" stroke-linejoin="round"/>
<line x1="285.70" y1="173.60" x2="285.70" y2="306.55" class="spine"/>
<line x1="285.40" y1="306.25" x2="519.70" y2="306.25" class="spine"/>
<text x="297.10" y="312.40" font-size="5.7" text-anchor="middle" fill="#262626" textLength="6.24" lengthAdjust="spacingAndGlyphs">40</text>
<line x1="297.10" y1="306.25" x2="297.10" y2="304.75" class="tick"/>
<text x="334.70" y="312.40" font-size="5.7" text-anchor="middle" fill="#262626" textLength="6.24" lengthAdjust="spacingAndGlyphs">50</text>
<line x1="334.70" y1="306.25" x2="334.70" y2="304.75" class="tick"/>
<text x="372.30" y="312.40" font-size="5.7" text-anchor="middle" fill="#262626" textLength="6.24" lengthAdjust="spacingAndGlyphs">60</text>
<line x1="372.30" y1="306.25" x2="372.30" y2="304.75" class="tick"/>
<text x="409.90" y="312.40" font-size="5.7" text-anchor="middle" fill="#262626" textLength="6.24" lengthAdjust="spacingAndGlyphs">70</text>
<line x1="409.90" y1="306.25" x2="409.90" y2="304.75" class="tick"/>
<text x="447.50" y="312.40" font-size="5.7" text-anchor="middle" fill="#262626" textLength="6.24" lengthAdjust="spacingAndGlyphs">80</text>
<line x1="447.50" y1="306.25" x2="447.50" y2="304.75" class="tick"/>
<text x="485.10" y="312.40" font-size="5.7" text-anchor="middle" fill="#262626" textLength="6.24" lengthAdjust="spacingAndGlyphs">90</text>
<line x1="485.10" y1="306.25" x2="485.10" y2="304.75" class="tick"/>
<text x="284.20" y="308.35" font-size="5.7" text-anchor="end" fill="#262626" textLength="3.12" lengthAdjust="spacingAndGlyphs">0</text>
<line x1="285.70" y1="306.25" x2="287.20" y2="306.25" class="tick"/>
<text x="284.20" y="282.95" font-size="5.7" text-anchor="end" fill="#262626" textLength="6.24" lengthAdjust="spacingAndGlyphs">50</text>
<line x1="285.70" y1="280.85" x2="287.20" y2="280.85" class="tick"/>
<text x="284.20" y="257.55" font-size="5.7" text-anchor="end" fill="#262626" textLength="9.35" lengthAdjust="spacingAndGlyphs">100</text>
<line x1="285.70" y1="255.45" x2="287.20" y2="255.45" class="tick"/>
<text x="284.20" y="232.15" font-size="5.7" text-anchor="end" fill="#262626" textLength="9.35" lengthAdjust="spacingAndGlyphs">150</text>
<line x1="285.70" y1="230.05" x2="287.20" y2="230.05" class="tick"/>
<text x="284.20" y="206.75" font-size="5.7" text-anchor="end" fill="#262626" textLength="9.35" lengthAdjust="spacingAndGlyphs">200</text>
<line x1="285.70" y1="204.65" x2="287.20" y2="204.65" class="tick"/>
<text x="284.20" y="181.35" font-size="5.7" text-anchor="end" fill="#262626" textLength="9.35" lengthAdjust="spacingAndGlyphs">250</text>
<line x1="285.70" y1="179.25" x2="287.20" y2="179.25" class="tick"/>
<text x="402.70" y="318.75" font-size="5.5" text-anchor="middle" fill="#262626" textLength="9.67" lengthAdjust="spacingAndGlyphs">Age</text>
<text x="272.40" y="240.93" font-size="5.5" text-anchor="middle" fill="#262626" textLength="25.83" lengthAdjust="spacingAndGlyphs" transform="rotate(-90 272.40 240.93)">Frequency</text>
<text x="402.70" y="171.60" font-size="7.5" text-anchor="middle" fill="#262626" textLength="154.66" lengthAdjust="spacingAndGlyphs" class="ttl">Laser Photo-Vaporization of the Prostate (PVP)</text>
</svg>
</body></html>
